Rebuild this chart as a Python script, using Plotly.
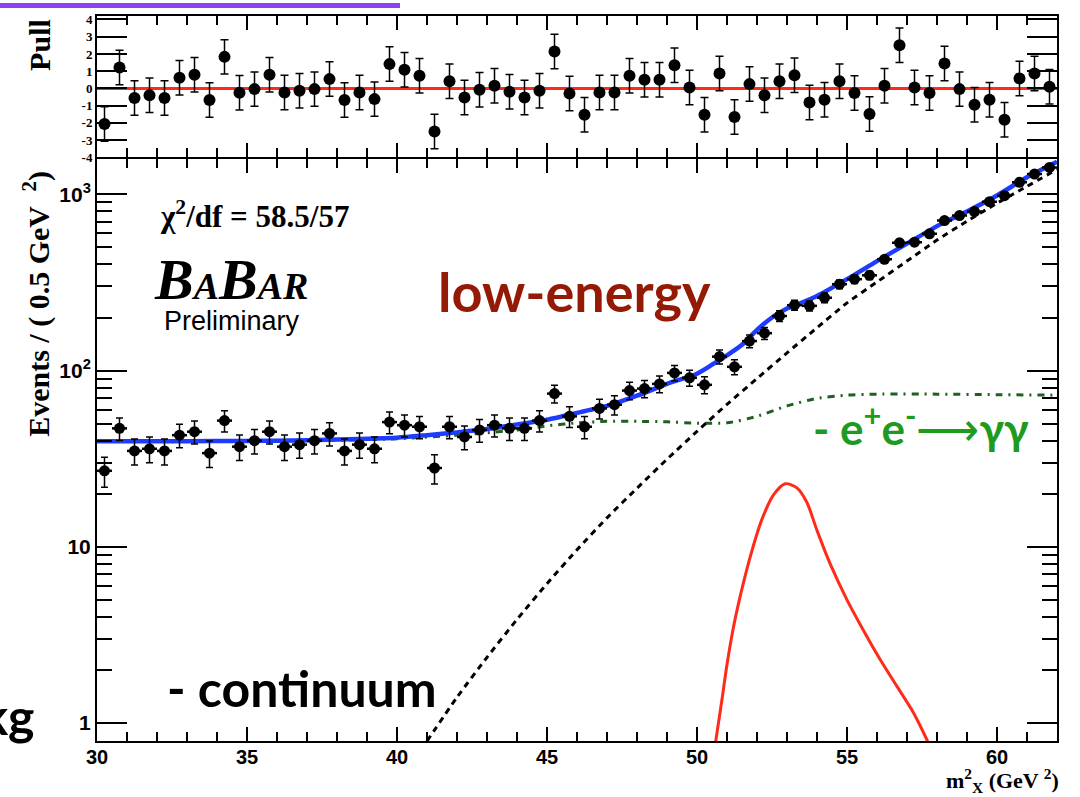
import numpy as np
import plotly.graph_objects as go

# ---------------- data ----------------
bin_centers = np.arange(30.25, 62.0, 0.5)
events = [27, 47, 35, 36, 35, 43, 45, 34, 52, 37, 40, 45, 37, 38, 40, 44,
          35, 38, 36, 51, 49, 48, 28, 48, 42, 46, 49, 47, 47, 52, 74, 55,
          48, 61, 64, 77, 79, 84, 97, 91, 83, 120, 105, 147, 163, 204, 235, 233,
          259, 309, 330, 347, 428, 531, 535, 597, 710, 758, 798, 909, 983, 1169, 1303, 1421]
pulls = [-2.06, 1.21, -0.56, -0.39, -0.56, 0.62, 0.79, -0.67, 1.83, -0.25, -0.04, 0.79,
         -0.23, -0.13, -0.04, 0.54, -0.67, -0.23, -0.62, 1.41, 1.08, 0.73, -2.5, 0.42,
         -0.52, -0.08, 0.15, -0.19, -0.52, -0.13, 2.14, -0.29, -1.52, -0.23, -0.23, 0.73,
         0.5, 0.5, 1.35, 0.06, -1.52, 0.87, -1.66, 0.25, -0.39, 0.42, 0.77, -0.81,
         -0.66, 0.42, -0.27, -1.48, 0.15, 2.5, 0.06, -0.27, 1.45, -0.04, -0.94, -0.66,
         -1.81, 0.58, 0.87, 0.1]

fit_x = [30, 32, 34, 36, 38, 40, 41, 42, 43, 44, 45, 46, 47, 48, 49, 50, 50.5, 51, 51.5,
         52, 52.5, 53, 53.5, 54, 55, 56, 57, 58, 59, 60, 61, 62]
fit_y = [39.7, 39.7, 39.8, 40.0, 40.6, 41.6, 43.0, 44.6, 46.6, 49.4, 52.6, 57.5, 63, 72, 84,
         96, 108, 122, 140, 170, 200, 225, 243, 265, 330, 418, 525, 660, 800, 985, 1250, 1530]

cont_x = [41, 42, 43, 44, 45, 46, 47, 48, 49, 50, 51, 52, 53, 54, 55, 56, 57, 58, 59, 60, 61, 62]
cont_y = [0.79, 1.40, 2.36, 3.87, 6.18, 9.62, 14.6, 21.5, 31.4, 45.2, 64.3, 90.1, 126, 175,
          242, 318, 418, 550, 704, 890, 1110, 1384]

gg_x = [30, 34, 38, 40, 42, 44, 45, 46, 47, 48, 49, 50, 51, 52, 53, 54, 55, 56, 58, 60, 62]
gg_y = [39.7, 39.7, 40.2, 41.0, 43.0, 46.0, 48.5, 50.5, 51.5, 51.5, 51.2, 50.3, 50.5, 55,
        63, 69.5, 72.5, 73.5, 73.5, 73, 72.5]

sig_x = [50.62, 50.83, 51.0, 51.22, 51.5, 51.83, 52.17, 52.55, 52.94, 53.33, 53.66, 54.0,
         54.44, 55.0, 55.55, 56.1, 56.66, 57.22, 57.7]
sig_y = [0.78, 1.35, 2.15, 3.53, 5.79, 9.49, 14.4, 19.7, 22.8, 21.6, 17.9, 12.4,
         8.0, 5.0, 3.35, 2.3, 1.62, 1.14, 0.78]

x_major = [30, 35, 40, 45, 50, 55, 60]
x_minor = list(range(30, 63))
y_major = [1, 10, 100, 1000]
y_major_text = ["1", "10", "10<sup>2</sup>", "10<sup>3</sup>"]
y_minor = [2, 3, 4, 5, 6, 7, 8, 9, 20, 30, 40, 50, 60, 70, 80, 90,
           200, 300, 400, 500, 600, 700, 800, 900]
pull_ticks = [-4, -3, -2, -1, 0, 1, 2, 3, 4]

# ---------------- figure ----------------
W, H = 1080, 797
ML, MR, MT, MB = 97, 23, 13, 56
PW, PH = W - ML - MR, H - MT - MB


def px(x):
    return (x - ML) / PW


def py(y):
    return (H - MB - y) / PH


fig = go.Figure()

errs = np.sqrt(np.array(events, dtype=float))

fig.add_trace(go.Scatter(x=gg_x, y=gg_y, mode="lines",
                         line=dict(color="#1f5f1f", width=3, dash="7px,6px,2px,6px", shape="spline", smoothing=0.6),
                         xaxis="x", yaxis="y", hoverinfo="skip"))
fig.add_trace(go.Scatter(x=cont_x, y=cont_y, mode="lines",
                         line=dict(color="black", width=3, dash="6px,5px", shape="spline", smoothing=0.6),
                         xaxis="x", yaxis="y", hoverinfo="skip"))
fig.add_trace(go.Scatter(x=sig_x, y=sig_y, mode="lines",
                         line=dict(color="#ff2a1a", width=3, shape="spline", smoothing=0.8),
                         xaxis="x", yaxis="y", hoverinfo="skip"))
fig.add_trace(go.Scatter(x=fit_x, y=fit_y, mode="lines",
                         line=dict(color="#1e3cff", width=4.5, shape="spline", smoothing=0.6),
                         xaxis="x", yaxis="y", hoverinfo="skip"))
fig.add_trace(go.Scatter(x=bin_centers, y=events, mode="markers",
                         marker=dict(color="black", size=11, symbol="circle"),
                         error_y=dict(type="data", array=errs, color="black", thickness=1.5, width=3.5),
                         error_x=dict(type="constant", value=0.25, color="black", thickness=2.5, width=0),
                         xaxis="x", yaxis="y"))

fig.add_trace(go.Scatter(x=bin_centers, y=pulls, mode="markers",
                         marker=dict(color="black", size=12, symbol="circle"),
                         error_y=dict(type="constant", value=1, color="black", thickness=1.5, width=4),
                         xaxis="x2", yaxis="y2"))

tickfont = dict(family="Liberation Sans", size=20, color="black", weight="bold")
common_x = dict(range=[30, 62], showline=True, linecolor="black", linewidth=2, mirror="ticks",
                ticks="inside", tickcolor="black", tickwidth=2, ticklen=14,
                tickmode="array", tickvals=x_major, showgrid=False, zeroline=False,
                minor=dict(ticks="inside", tickmode="array", tickvals=x_minor, ticklen=9,
                           tickwidth=1.5, tickcolor="black", showgrid=False))

main_dom = [0, py(157)]
pull_dom = [py(155), 1]

fig.update_layout(
    width=W, height=H, autosize=False,
    margin=dict(l=ML, r=MR, t=MT, b=MB),
    plot_bgcolor="white", paper_bgcolor="white", showlegend=False,
    xaxis=dict(**common_x, anchor="y", domain=[0, 1], ticktext=[str(v) for v in x_major],
               tickfont=tickfont, ticklabelstandoff=-3),
    yaxis=dict(type="log", range=[np.log10(0.791), np.log10(1578)], domain=main_dom, anchor="x",
               showline=True, linecolor="black", linewidth=2, mirror="ticks",
               ticks="inside", tickcolor="black", tickwidth=2, ticklen=30,
               tickmode="array", tickvals=y_major, ticktext=y_major_text,
               tickfont=dict(family="Liberation Sans", size=21, color="black", weight="bold"),
               showgrid=False, zeroline=False,
               minor=dict(ticks="inside", tickmode="array", tickvals=y_minor, ticklen=15,
                          tickwidth=1.5, tickcolor="black", showgrid=False)),
    xaxis2=dict(**common_x, anchor="y2", domain=[0, 1], matches="x", showticklabels=False),
    yaxis2=dict(range=[-4, 4.2], domain=pull_dom, anchor="x2",
                showline=True, linecolor="black", linewidth=2, mirror="ticks",
                ticks="inside", tickcolor="black", tickwidth=2, ticklen=30,
                tickmode="array", tickvals=pull_ticks, ticktext=[str(v) for v in pull_ticks],
                tickfont=dict(family="Liberation Serif", size=13, color="black", weight="bold"),
                showgrid=False, zeroline=False),
)

# red zero line of the pull panel
fig.add_shape(type="line", xref="x2 domain", yref="y2", x0=0, x1=1, y0=0, y1=0,
              line=dict(color="#ff2a1a", width=3), layer="below")
# purple strip at the top-left
fig.add_shape(type="rect", xref="paper", yref="paper", x0=px(0), x1=px(400), y0=py(5), y1=py(0),
              fillcolor="#8a43f2", line=dict(width=0), layer="above")

serif = "Liberation Serif"
calibri = "Lato"
ann = [
    dict(text="<b>Pull</b>", x=px(40), y=py(42), textangle=-90,
         font=dict(family=serif, size=30, color="black")),
    dict(text="<b>Events / ( 0.5 GeV  <sup>2</sup>)</b>", x=px(37), y=py(302), textangle=-90,
         font=dict(family=serif, size=30, color="black")),
    dict(text="<b>m<sup>2</sup><sub>X</sub> (GeV <sup>2</sup>)</b>", x=px(1060), y=py(797),
         xanchor="right", yanchor="bottom", borderpad=0,
         font=dict(family=serif, size=22, color="black")),
    dict(text="<b>χ<sup>2</sup>/df = 58.5/57</b>", x=px(254), y=py(212),
         font=dict(family=serif, size=31, color="black")),
    dict(text='<b><i>B<span style="font-size:38px">A</span>B<span style="font-size:38px">AR</span></i></b>',
         x=px(231), y=py(278), font=dict(family=serif, size=58, color="black")),
    dict(text="Preliminary", x=px(232), y=py(319),
         font=dict(family="Liberation Sans", size=27, color="black")),
    dict(text="<b>low-energy</b>", x=px(574), y=py(290),
         font=dict(family=calibri, size=54, color="#951a06")),
    dict(text="<b>- continuum</b>", x=px(302), y=py(688),
         font=dict(family=calibri, size=50, color="black")),
    dict(text="<b>- e<sup>+</sup>e<sup>-</sup></b>⟶<b>γγ</b>", x=px(921), y=py(424),
         font=dict(family=calibri, size=44, color="#1e9a1e")),
    dict(text="<b>bkg</b>", x=px(37), y=py(716), xanchor="right",
         font=dict(family=calibri, size=50, color="black")),
]
for a in ann:
    a.setdefault("xanchor", "center")
    a.setdefault("yanchor", "middle")
    fig.add_annotation(xref="paper", yref="paper", showarrow=False, **a)

fig.write_html("out.html")
